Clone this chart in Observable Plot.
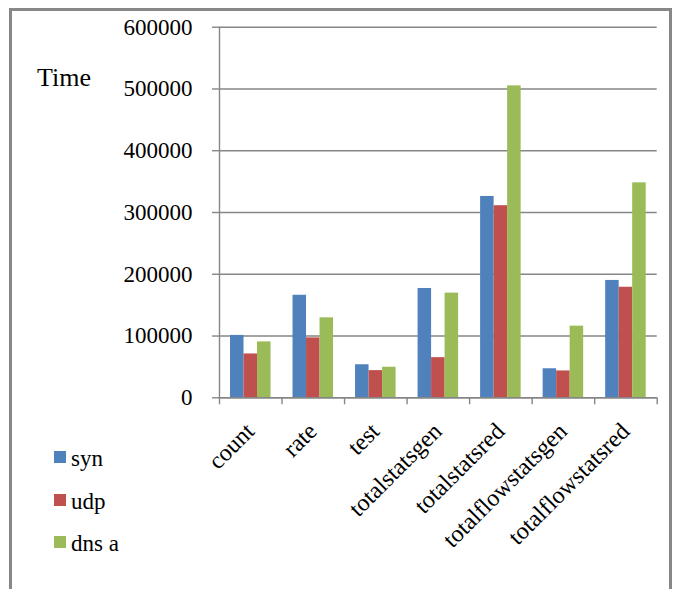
<!DOCTYPE html>
<html>
<head>
<meta charset="utf-8">
<script src="https://cdn.jsdelivr.net/npm/d3@7"></script>
<script src="https://cdn.jsdelivr.net/npm/@observablehq/plot@0.6"></script>
<style>
  body { margin: 0; background: #fff; }
  #wrap { position: relative; width: 673px; height: 589px; overflow: hidden; background: #fff;
          font-family: "Liberation Serif", "Times New Roman", serif; color: #000; }
  #border { position: absolute; left: 9px; top: 8px; width: 663px; height: 640px;
            border: 3px solid #878787; box-sizing: border-box; pointer-events: none; }
  #chart { position: absolute; left: 0; top: 0; }
  #ylabel { position: absolute; left: 37px; top: 65px; font-size: 26px; line-height: 26px;
            font-family: "Liberation Serif", serif; }
  .leg { position: absolute; left: 54px; font-size: 23px; line-height: 23px; white-space: nowrap;
         font-family: "Liberation Serif", serif; }
  .leg .sw { position: absolute; left: 0; width: 12px; height: 12px; }
  .leg .lab { position: absolute; left: 17px; }
</style>
</head>
<body>
<div id="wrap">
  <div id="chart"></div>
  <div id="ylabel">Time</div>
  <div id="legend"></div>
  <div id="border"></div>
</div>
<script>
const categories = ["count", "rate", "test", "totalstatsgen", "totalstatsred", "totalflowstatsgen", "totalflowstatsred"];
const seriesNames = ["syn", "udp", "dns a"];
const synValues = [101000, 166000, 53500, 177000, 326000, 47000, 190000];
const udpValues = [71000, 97000, 44000, 65000, 311000, 43500, 179000];
const dnsValues = [90500, 129500, 49500, 169500, 505000, 116000, 348000];
const seriesColors = ["#4F81BD", "#C0504D", "#9BBB59"];
const yTicks = [0, 100000, 200000, 300000, 400000, 500000, 600000];

const W = 673, H = 589;
const mL = 219, mR = 16.3, mT = 26.7, mB = 191.7;
const bw = (W - mL - mR) / categories.length;
const groupInset = 11;
const barW = (bw - 2 * groupInset) / seriesNames.length;
const axisColor = "#868686";
const serif = "'Liberation Serif', 'Times New Roman', serif";

const seriesValues = [synValues, udpValues, dnsValues];
const barMarks = seriesValues.map((vals, s) =>
  Plot.barY(categories.map((c, i) => ({category: c, value: vals[i]})), {
    x: "category", y: "value", fill: seriesColors[s],
    insetLeft: groupInset + s * barW,
    insetRight: bw - groupInset - (s + 1) * barW
  })
);

const plot = Plot.plot({
  width: W, height: H,
  marginLeft: mL, marginRight: mR, marginTop: mT, marginBottom: mB,
  style: {fontFamily: serif, fontSize: "23px", background: "transparent", color: "#000"},
  x: {type: "band", domain: categories, padding: 0, round: false, axis: null},
  y: {domain: [0, 600000], axis: null, label: null},
  marks: [
    Plot.gridY(yTicks, {stroke: axisColor, strokeOpacity: 1, strokeWidth: 1.4}),
    ...barMarks,
    Plot.axisY(yTicks, {tickSize: 7, tickPadding: 20, tickFormat: d => String(d), label: null,
      stroke: axisColor, strokeWidth: 1.4, fill: "#000", fontSize: 23, fontFamily: serif}),
    Plot.ruleY([0], {stroke: axisColor, strokeWidth: 1.4}),
    Plot.ruleX([categories[0]], {x: d => d, dx: -bw / 2, stroke: axisColor, strokeWidth: 1.4}),
    Plot.ruleX(categories, {x: d => d, dx: -bw / 2, y1: 0, y2: 0, insetBottom: -7, stroke: axisColor, strokeWidth: 1.4}),
    Plot.ruleX([categories[categories.length - 1]], {x: d => d, dx: bw / 2, y1: 0, y2: 0, insetBottom: -7, stroke: axisColor, strokeWidth: 1.4}),
    Plot.text(categories, {x: d => d, frameAnchor: "bottom", rotate: -45, textAnchor: "end",
      dx: 5, dy: 35, fontSize: 24, fontFamily: serif, fill: "#000"})
  ]
});
document.getElementById("chart").appendChild(plot);

const legend = document.getElementById("legend");
const legendTops = [451, 494, 536];
seriesNames.forEach((name, i) => {
  const row = document.createElement("div");
  row.className = "leg";
  row.style.top = legendTops[i] + "px";
  row.innerHTML = `<span class="sw" style="background:${seriesColors[i]}"></span><span class="lab" style="top:-4px">${name}</span>`;
  legend.appendChild(row);
});
</script>
</body>
</html>
